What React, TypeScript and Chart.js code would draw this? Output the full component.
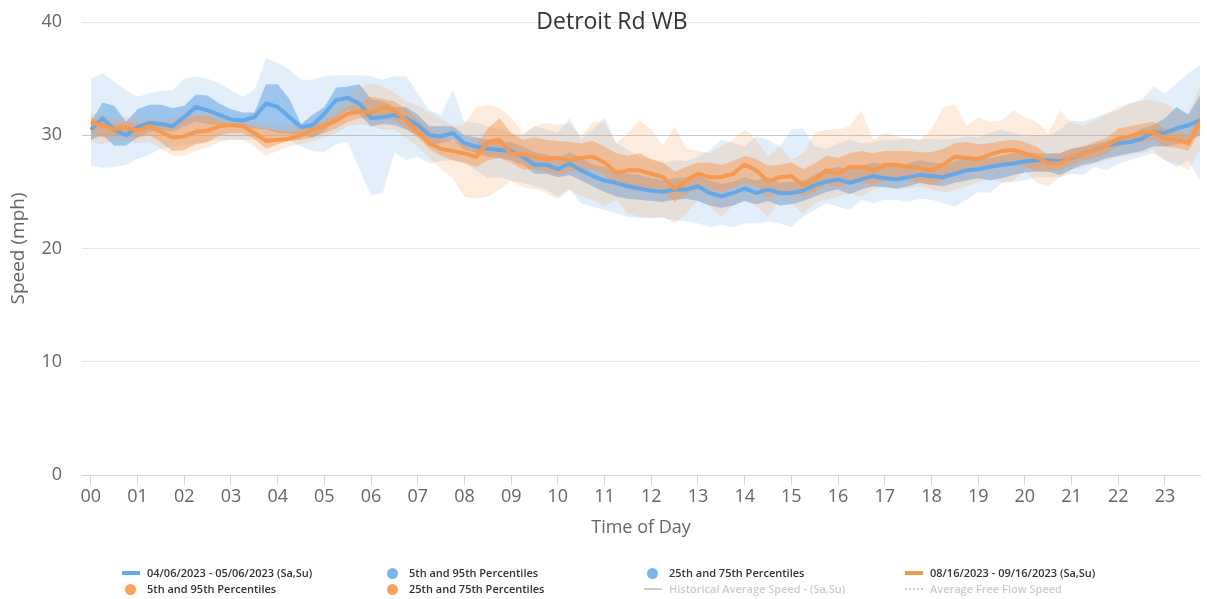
import React, { useEffect, useRef } from "react";
import { Chart, registerables } from "chart.js";

Chart.register(...registerables);

// ---------- data ----------
const chartTitle = "Detroit Rd WB";
const hourLabels = ["00","01","02","03","04","05","06","07","08","09","10","11","12","13","14","15","16","17","18","19","20","21","22","23"];

// 15-minute time slots 00:00 … 23:45
const timeSlots: string[] = [];
for (const h of hourLabels) for (const m of ["00", "15", "30", "45"]) timeSlots.push(`${h}:${m}`);

// Series 1: 04/06/2023 - 05/06/2023 (Sa,Su)
const blueMedian = [
  30.5,31.5,30.5,30.0,30.7,31.1,31.0,30.8,31.6,32.5,
  32.2,31.8,31.4,31.3,31.6,32.8,32.5,31.6,30.7,30.9,
  31.9,33.1,33.3,32.8,31.5,31.6,31.8,31.5,30.9,30.0,
  29.9,30.2,29.3,29.0,28.8,28.7,28.6,28.1,27.4,27.4,
  27.0,27.5,26.9,26.4,26.0,25.8,25.5,25.3,25.1,25.0,
  25.2,25.2,25.5,24.9,24.6,24.9,25.3,24.9,25.2,24.9,
  24.9,25.1,25.6,25.9,26.1,25.8,26.1,26.4,26.2,26.1,
  26.3,26.5,26.4,26.3,26.6,26.9,27.0,27.2,27.4,27.5,
  27.7,27.8,27.8,27.7,28.0,28.4,28.7,29.1,29.3,29.4,
  29.7,30.3,30.2,30.6,30.9,31.3];
const blueP25 = [
  29.6,30.0,29.1,29.1,29.8,30.3,30.4,30.3,30.8,31.2,
  31.0,30.9,30.8,30.6,30.6,30.5,30.2,30.1,30.0,29.8,
  30.4,31.5,32.2,31.8,30.8,31.0,30.9,30.5,30.0,29.2,
  29.3,29.6,28.7,28.4,28.1,28.0,27.8,27.4,26.6,26.6,
  26.3,26.5,26.0,25.5,25.0,24.6,24.4,24.3,24.2,24.1,
  24.3,24.4,24.2,23.8,23.6,23.8,24.2,23.9,24.2,23.8,
  23.9,24.2,24.6,25.0,25.2,24.8,25.2,25.5,25.4,25.3,
  25.5,25.8,25.6,25.5,25.8,26.0,26.2,26.0,26.2,26.5,
  26.7,26.8,26.8,26.5,27.0,27.4,27.6,28.0,28.2,28.4,
  28.6,29.0,29.0,29.2,29.5,30.0];
const blueP75 = [
  31.2,32.9,32.6,31.2,32.3,32.7,32.7,32.4,32.6,33.6,
  33.5,32.8,32.3,32.0,32.0,34.5,34.5,33.2,31.0,31.8,
  32.5,34.2,34.3,34.5,33.2,33.0,32.5,32.5,31.8,30.8,
  30.8,30.8,30.0,29.8,29.6,29.4,29.4,29.0,28.5,28.3,
  28.0,28.5,28.0,27.4,27.2,26.8,26.6,26.5,26.2,26.0,
  26.2,26.3,26.5,26.0,25.7,25.9,26.3,26.0,26.3,25.8,
  25.9,26.0,26.5,27.0,27.2,27.0,27.3,27.6,27.4,27.3,
  27.5,27.8,27.6,27.5,27.7,28.0,28.1,28.0,28.2,28.4,
  28.5,28.4,28.4,28.4,28.8,29.0,29.2,29.5,29.8,30.0,
  30.6,30.9,31.5,32.5,31.8,33.5];
const blueP5 = [
  27.3,27.1,27.2,27.4,27.9,28.3,28.8,29.0,29.1,29.3,
  29.5,29.6,29.6,29.6,29.6,29.5,29.5,29.5,29.0,28.6,
  28.5,29.2,29.4,27.0,24.7,24.9,28.5,27.8,28.1,27.5,
  27.7,27.8,27.5,26.9,26.2,26.3,26.0,25.8,25.5,25.2,
  24.6,25.2,24.0,23.7,23.4,23.1,22.8,22.7,22.7,22.7,
  22.5,22.4,22.2,21.9,22.1,21.9,22.2,22.2,22.4,22.2,
  21.9,22.8,23.4,24.0,23.7,23.4,24.3,24.0,24.3,24.3,
  24.1,24.4,24.3,24.0,23.7,24.3,25.0,24.9,25.8,25.9,
  26.0,26.3,26.3,26.3,26.6,26.5,27.2,26.9,27.5,27.8,
  28.1,28.4,27.8,27.2,27.8,26.0];
const blueP95 = [
  35.0,35.5,34.7,34.0,33.4,33.7,33.9,34.0,35.0,35.2,
  35.0,34.6,34.0,33.4,34.0,36.8,36.4,35.8,34.9,34.9,
  35.2,35.3,35.3,35.3,35.2,34.9,35.2,35.2,33.7,32.2,
  31.8,34.0,31.2,31.1,30.8,30.5,30.2,30.0,30.8,30.5,
  30.2,31.5,29.6,30.5,31.6,29.3,28.7,28.1,27.8,27.5,
  27.8,27.7,28.1,28.7,29.6,29.3,29.0,29.9,29.6,29.0,
  30.5,30.6,29.0,28.8,29.3,29.6,29.3,29.4,29.6,29.6,
  29.7,29.6,29.7,29.6,29.7,29.9,29.8,30.2,30.5,30.2,
  29.9,30.0,29.9,30.5,31.3,31.2,31.6,31.9,32.2,32.8,
  33.1,34.3,33.7,34.6,35.5,36.2];

// Series 2: 08/16/2023 - 09/16/2023 (Sa,Su)
const orangeMedian = [
  31.1,30.9,30.5,30.7,30.4,30.8,30.3,29.8,29.9,30.3,
  30.4,30.8,30.9,30.8,30.2,29.5,29.6,29.7,30.0,30.5,
  30.8,31.3,31.9,32.1,32.0,32.5,32.2,31.3,30.3,29.3,
  28.8,28.6,28.4,28.1,29.4,29.6,28.4,28.3,28.1,27.9,
  28.0,27.8,28.0,28.1,27.6,26.7,26.9,26.9,26.6,26.3,
  25.3,26.0,26.6,26.3,26.3,26.6,27.4,26.9,25.9,26.3,
  26.4,25.6,26.1,26.9,26.6,27.2,27.2,26.9,27.4,27.4,
  27.2,27.1,26.9,27.4,28.1,28.0,27.9,28.3,28.6,28.7,
  28.4,28.1,27.5,27.5,28.1,28.4,28.7,29.1,29.7,29.9,
  30.2,30.3,29.7,29.6,29.3,31.2];
const orangeP25 = [
  30.2,29.8,30.0,30.0,29.8,30.0,29.4,28.6,28.7,29.2,
  29.4,30.0,30.2,30.2,29.7,28.8,29.2,29.5,29.6,29.8,
  30.2,30.6,31.2,31.5,31.5,31.5,31.4,30.6,29.8,28.8,
  28.2,27.8,27.6,27.2,27.8,28.0,27.6,27.0,27.0,26.8,
  26.5,26.8,27.0,27.0,26.5,25.5,25.6,25.4,25.0,25.1,
  24.1,24.8,25.3,25.2,25.0,25.3,25.8,25.5,24.5,25.0,
  25.0,24.6,25.0,25.6,25.4,25.8,25.8,25.6,26.0,26.2,
  26.0,25.8,25.6,26.0,26.6,26.8,27.0,27.2,27.4,27.6,
  27.2,26.8,26.8,26.9,27.4,27.8,28.0,28.4,29.0,29.2,
  29.4,29.6,29.0,28.9,28.6,30.4];
const orangeP75 = [
  31.6,31.2,31.0,31.2,31.0,31.2,31.0,31.0,31.4,31.7,
  31.7,31.3,31.0,31.0,30.8,30.6,30.4,30.3,30.6,30.8,
  31.3,31.8,32.5,32.8,33.4,33.2,33.0,32.3,31.4,30.4,
  29.8,29.5,29.3,29.1,30.6,31.5,30.2,29.6,29.8,29.6,
  29.5,29.4,29.3,29.5,29.0,28.4,28.2,28.4,27.9,27.6,
  26.8,27.2,27.6,27.6,27.4,27.7,28.2,27.9,27.3,27.4,
  27.6,27.0,27.5,28.2,28.0,28.4,28.6,28.4,28.6,28.6,
  28.6,28.5,28.5,28.8,29.3,29.4,29.2,29.3,29.5,29.6,
  29.4,29.0,28.2,28.4,28.8,29.0,29.4,29.8,30.6,30.8,
  31.0,31.2,30.6,30.4,30.0,32.0];
const orangeP5 = [
  29.4,29.2,29.5,29.5,29.3,29.4,28.8,28.2,28.2,28.6,
  28.9,29.4,29.6,29.6,29.0,28.2,28.6,29.0,29.2,29.5,
  29.8,30.2,30.8,31.0,30.8,30.5,30.5,29.8,29.0,28.0,
  27.0,26.2,24.6,24.4,24.6,25.2,26.0,25.4,25.2,24.9,
  24.3,25.2,24.6,24.3,23.7,24.3,23.1,22.8,22.7,22.8,
  22.2,23.1,24.3,23.7,22.8,23.8,24.3,23.7,22.8,24.3,
  24.0,23.1,24.0,24.3,24.6,24.9,24.6,25.2,25.5,25.2,
  25.3,25.5,25.2,24.9,25.2,25.5,25.8,26.3,25.8,26.0,
  26.9,25.8,25.5,26.3,26.9,27.2,27.5,27.8,28.1,28.3,
  28.4,28.7,27.8,27.5,26.9,28.7];
const orangeP95 = [
  32.0,31.8,31.5,31.6,31.4,31.6,31.4,31.6,31.9,32.1,
  32.0,31.8,31.5,31.4,31.2,31.0,30.8,30.8,31.0,31.2,
  31.8,32.5,33.5,34.2,34.6,34.3,33.8,33.0,32.6,32.0,
  31.5,30.8,31.0,32.5,32.7,32.4,31.6,30.2,30.8,31.1,
  30.9,31.1,29.9,31.2,31.1,29.3,30.2,31.3,30.5,29.1,
  30.8,28.8,28.6,28.4,29.0,29.6,30.5,29.6,28.1,29.0,
  27.8,28.4,30.2,30.5,30.5,30.8,32.2,29.6,30.2,29.9,
  29.7,29.6,30.5,32.5,32.7,30.8,31.6,31.2,31.3,32.2,
  31.6,31.2,30.2,32.2,31.1,30.8,31.3,31.9,32.5,32.8,
  33.1,33.1,32.8,32.2,31.9,34.3];

const yTicks = [0, 10, 20, 30, 40];

const series1Label = "04/06/2023 - 05/06/2023 (Sa,Su)";
const series2Label = "08/16/2023 - 09/16/2023 (Sa,Su)";

// ---------- styles ----------
const BLUE = "rgb(100,168,232)";
const ORANGE = "rgb(245,153,80)";
const BLUE_LIGHT = "rgba(110,170,230,0.2)";
const BLUE_DARK = "rgba(110,170,230,0.6)";
const ORANGE_LIGHT = "rgba(245,155,85,0.2)";
const ORANGE_DARK = "rgba(245,155,85,0.5)";
const FONT = '"Open Sans", "Noto Sans", sans-serif';

const toHours = (t: string) => {
  const [h, m] = t.split(":").map(Number);
  return h + m / 60;
};
const pts = (vals: number[]) => vals.map((v, i) => ({ x: toHours(timeSlots[i]), y: v }));

function band(vals: number[], fill: number | false, color: string, order: number) {
  return {
    data: pts(vals),
    borderWidth: 0,
    borderColor: "rgba(0,0,0,0)",
    backgroundColor: color,
    pointRadius: 0,
    fill: fill === false ? false : fill,
    order,
    tension: 0,
  };
}

const titlePlugin = {
  id: "customTitle",
  afterDraw(chart: any) {
    const ctx = chart.ctx;
    ctx.save();
    ctx.font = `23px ${FONT}`;
    ctx.fillStyle = "#333333";
    ctx.textAlign = "center";
    ctx.textBaseline = "alphabetic";
    ctx.fillText(chartTitle, 612, 29);
    ctx.restore();
  },
};

export default function App() {
  const ref = useRef<HTMLCanvasElement | null>(null);

  useEffect(() => {
    if (!ref.current) return;
    const datasets: any[] = [
      { label: series2Label, data: pts(orangeMedian), borderColor: ORANGE, borderWidth: 4, pointRadius: 0, fill: false, order: 0, tension: 0, borderJoinStyle: "round" },
      { label: series1Label, data: pts(blueMedian), borderColor: BLUE, borderWidth: 4, pointRadius: 0, fill: false, order: 1, tension: 0, borderJoinStyle: "round" },
      band(orangeP75, 3, ORANGE_DARK, 2),
      band(orangeP25, false, ORANGE_DARK, 3),
      band(orangeP95, 5, ORANGE_LIGHT, 4),
      band(orangeP5, false, ORANGE_LIGHT, 5),
      band(blueP75, 7, BLUE_DARK, 6),
      band(blueP25, false, BLUE_DARK, 7),
      band(blueP95, 9, BLUE_LIGHT, 8),
      band(blueP5, false, BLUE_LIGHT, 9),
    ];

    const chart = new Chart(ref.current, {
      type: "line",
      data: { datasets },
      plugins: [titlePlugin],
      options: {
        animation: false,
        responsive: false,
        devicePixelRatio: 1,
        layout: { padding: { left: 0, right: 7, top: 22, bottom: 54 } },
        plugins: {
          legend: { display: false },
          tooltip: { enabled: false },
          title: { display: false },
        },
        scales: {
          x: {
            type: "linear",
            min: -0.19,
            max: 23.75,
            afterBuildTicks: (scale: any) => {
              scale.ticks = hourLabels.map((_, h) => ({ value: h }));
            },
            afterFit: (scale: any) => {
              scale.height = 70;
            },
            ticks: {
              autoSkip: false,
              maxRotation: 0,
              padding: 1,
              color: "#666666",
              font: { family: FONT, size: 18 },
              callback: (v: any) => hourLabels[Math.round(Number(v))] ?? "",
            },
            grid: { drawOnChartArea: false, drawTicks: true, tickLength: 10, color: "#ccd6eb" },
            border: { color: "#ccd6eb", width: 1 },
            title: {
              display: true,
              text: "Time of Day",
              color: "#666666",
              font: { family: FONT, size: 18 },
              padding: { top: 0, bottom: 6 },
            },
          },
          y: {
            min: 0,
            max: 40,
            afterBuildTicks: (scale: any) => {
              scale.ticks = yTicks.map((v) => ({ value: v }));
            },
            afterFit: (scale: any) => {
              scale.width = 82;
            },
            ticks: {
              padding: 0,
              color: "#666666",
              font: { family: FONT, size: 18 },
            },
            grid: {
              drawTicks: true,
              tickLength: 20,
              tickColor: "rgba(0,0,0,0)",
              color: (ctx: any) => (ctx.tick && ctx.tick.value === 30 ? "#c8c8c8" : "#e6e6e6"),
            },
            border: { display: false },
            title: {
              display: true,
              text: "Speed (mph)",
              color: "#666666",
              font: { family: FONT, size: 19 },
              padding: { top: 7, bottom: 0 },
            },
          },
        },
      } as any,
    });
    return () => chart.destroy();
  }, []);

  const cols = [147, 409, 669, 930];
  const rows = [573, 589];
  const legendItems = [
    { label: series1Label, symbol: "line", color: BLUE, hidden: false, r: 0, c: 0 },
    { label: "5th and 95th Percentiles", symbol: "circle", color: "#7cb5ec", hidden: false, r: 0, c: 1 },
    { label: "25th and 75th Percentiles", symbol: "circle", color: "#7cb5ec", hidden: false, r: 0, c: 2 },
    { label: series2Label, symbol: "line", color: ORANGE, hidden: false, r: 0, c: 3 },
    { label: "5th and 95th Percentiles", symbol: "circle", color: "#f7a35c", hidden: false, r: 1, c: 0 },
    { label: "25th and 75th Percentiles", symbol: "circle", color: "#f7a35c", hidden: false, r: 1, c: 1 },
    { label: "Historical Average Speed - (Sa,Su)", symbol: "line", color: "#cccccc", hidden: true, r: 1, c: 2 },
    { label: "Average Free Flow Speed", symbol: "dots", color: "#cccccc", hidden: true, r: 1, c: 3 },
  ];

  return (
    <div style={{ position: "absolute", left: 0, top: 0, width: 1207, height: 599, background: "#ffffff", overflow: "hidden", fontFamily: FONT }}>
      <canvas ref={ref} width={1207} height={599} style={{ position: "absolute", left: 0, top: 0, width: 1207, height: 599 }} />
      {legendItems.map((it, i) => {
        const tx = cols[it.c];
        const cy = rows[it.r];
        let sym: React.ReactNode = null;
        if (it.symbol === "line") {
          sym = <div style={{ position: "absolute", left: tx - 25, top: cy - (it.hidden ? 1 : 2), width: 18, height: it.hidden ? 2 : 4, background: it.color }} />;
        } else if (it.symbol === "circle") {
          sym = <div style={{ position: "absolute", left: tx - 22, top: cy - 5.5, width: 11, height: 11, borderRadius: "50%", background: it.color }} />;
        } else {
          sym = <div style={{ position: "absolute", left: tx - 25, top: cy - 1, width: 18, height: 0, borderTop: `2px dotted ${it.color}` }} />;
        }
        return (
          <React.Fragment key={i}>
            {sym}
            <div style={{ position: "absolute", left: tx, top: cy - 8, height: 16, lineHeight: "16px", fontSize: 11, fontWeight: 600, color: it.hidden ? "#cccccc" : "#333333", whiteSpace: "nowrap" }}>
              {it.label}
            </div>
          </React.Fragment>
        );
      })}
    </div>
  );
}
